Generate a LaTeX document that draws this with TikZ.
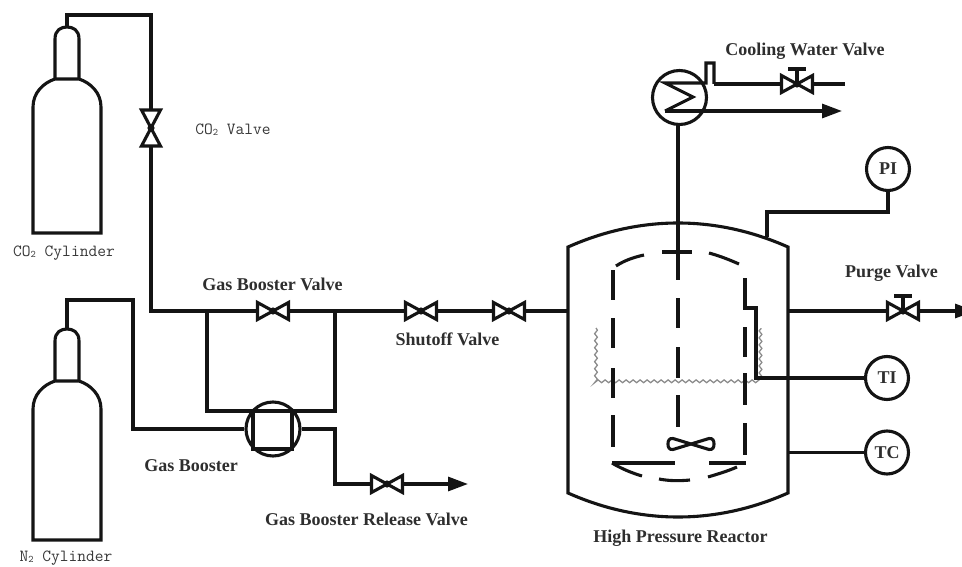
\documentclass[tikz,border=0pt]{standalone}
\usepackage{fontspec}
\setmainfont{Liberation Serif}
\usetikzlibrary{arrows.meta,decorations.pathmorphing}
\definecolor{pipec}{gray}{0.08}
\definecolor{coilc}{gray}{0.55}
\newcommand{\subtwo}{\raisebox{-1pt}{\fontsize{10}{10}\selectfont 2}}
\tikzset{
  x=1pt,y=-1pt,
  pipe/.style={line width=3.1pt,draw=pipec,line join=miter},
  dashseg/.style={line width=3.1pt,draw=pipec},
  flow/.style={pipe,-{Triangle[length=20pt,width=14pt]}},
  lab/.style={font=\bfseries\fontsize{18}{20}\selectfont,text=black!82,inner sep=0pt},
  mlab/.style={font=\ttfamily\fontsize{17}{19}\selectfont,text=black!78,inner sep=0pt},
  inst/.style={circle,draw=pipec,line width=3.1pt,fill=white,minimum size=43pt,inner sep=0pt,font=\bfseries\fontsize{18}{20}\selectfont,text=black!82},
  ring/.style={circle,draw=pipec,line width=3.1pt,minimum size=54pt,inner sep=0pt},
  coil/.style={draw=coilc,line width=1.3pt,decorate,decoration={snake,amplitude=1.4pt,segment length=7pt}},
  bowtie/.pic={\draw[pipe,fill=white] (-15.5,-8.5)--(15.5,8.5)--(15.5,-8.5)--(-15.5,8.5)--cycle; \fill[pipec] (0,0) circle (3.6);},
  vbowtie/.pic={\draw[pipe,fill=white] (-9.5,-18)--(9.5,18)--(-9.5,18)--(9.5,-18)--cycle; \fill[pipec] (0,0) circle (3.6);},
  handle/.pic={\draw[pipe] (0,0)--(0,-15); \draw[pipe] (-9,-15)--(9,-15);},
  pics/cylinder/.style={code={
     \draw[pipe] (-34,#1)--(34,#1)--(34,80)
     .. controls (34,66) and (24,56) .. (12,52) -- (-12,52)
     .. controls (-24,56) and (-34,66) .. (-34,80) -- cycle;
     \draw[pipe] (-12,52)--(-12,12) .. controls (-12,3) and (-6,0) .. (0,0)
     .. controls (6,0) and (12,3) .. (12,12) -- (12,52);}}
}
\begin{document}
\begin{tikzpicture}
\useasboundingbox (0,0) rectangle (962,567);
% anchors
\coordinate (cyl1) at (67,27);
\coordinate (cyl2) at (67,329);
\coordinate (vco2) at (151,128);
\coordinate (jn) at (151,311);
\coordinate (jl) at (207,311);
\coordinate (jr) at (335,311);
\coordinate (vgb) at (273,311);
\coordinate (vs1) at (421,311);
\coordinate (vs2) at (509,311);
\coordinate (rl) at (568,311);
\coordinate (rr) at (788,311);
\coordinate (vpg) at (903,311);
\coordinate (pgend) at (975,311);
\coordinate (vrl) at (387,484);
\coordinate (rlend) at (468,484);
\coordinate (vcw) at (797,84);
\coordinate (cwend) at (845,84);
\coordinate (cdend) at (842,111);
\coordinate (shafttop) at (678,125);
% equipment nodes
\node[ring] (cond) at (679.5,97.5) {};
\node[ring] (boost) at (273,429) {};
\node[inst] (pi) at (888,169) {PI};
\node[inst] (ti) at (887,378) {TI};
\node[inst] (tc) at (887,452.5) {TC};
% cylinders
\pic at (cyl1) {cylinder=206};
\pic at (cyl2) {cylinder=211};
% CO2 line
\draw[pipe] (cyl1) -- (67,15) -- (151,15) -- (vco2) -- (jn) -- (rl);
% N2 line
\draw[pipe] (cyl2) -- (67,300) -- (133,300) -- (133,429) -- (boost.west);
% bypass
\draw[pipe] (jl) -- (207,411) -- (335,411) -- (jr);
% booster square
\draw[pipe] (253,411) rectangle (292,449);
% release
\draw[pipe] (boost.east) -- (335,429) -- (335,484) -- (vrl);
\draw[flow] (vrl) -- (rlend);
% valves on main line
\pic at (vgb) {bowtie};
\pic at (vs1) {bowtie};
\pic at (vs2) {bowtie};
\pic at (vrl) {bowtie};
\pic at (vco2) {vbowtie};
% reactor
\draw[pipe] (568,247) .. controls (640,215) and (716,215) .. (788,247) -- (788,493)
  .. controls (716,525) and (640,525) .. (568,493) -- cycle;
% internal coil
\draw[coil] (596,328) -- (596,381) -- (761,381) -- (761,328);
% internal dashed vessel
\draw[dashseg] (613,270)--(613,300) (613,318)--(613,348) (613,368)--(613,398) (613,415)--(613,447);
\draw[dashseg] (745,327)--(745,357) (745,373)--(745,405) (745,423)--(745,455);
\draw[dashseg] (616,266) .. controls (625,260) and (635,257) .. (644,255);
\draw[dashseg] (709,253) .. controls (720,256) and (730,260) .. (739,264);
\draw[dashseg] (662,252)--(692,252);
\draw[dashseg] (612,463)--(675,463) (709,463)--(746,463);
\draw[dashseg] (612,463) .. controls (622,469) and (632,473) .. (642,476);
\draw[dashseg] (659,479) .. controls (669,481) and (680,481) .. (690,480);
\draw[dashseg] (708,477) .. controls (718,474) and (728,471) .. (737,467);
% shaft
\draw[dashseg] (shafttop) -- (678,280) (678,298)--(678,328) (678,347)--(678,378) (678,395)--(678,427);
% impeller
\draw[dashseg,fill=white] (691,444) -- (673,438.5)
  .. controls (669,438) and (668,441) .. (668,444) .. controls (668,447) and (669,450) .. (673,449.5)
  -- (691,444) -- (709,438.5) .. controls (713,438) and (714,441) .. (714,444)
  .. controls (714,447) and (713,450) .. (709,449.5) -- cycle;
% outlets
\draw[flow] (rr) -- (pgend);
\pic at (vpg) {handle};
\pic at (vpg) {bowtie};
\draw[pipe] (745,278) -- (745,308) -- (756,308) -- (756,378) -- (ti.west);
\draw[pipe] (788,452.5) -- (tc.west);
\draw[pipe] (767,237) -- (767,212) -| (pi.south);
% condenser
\draw[pipe] (714,84) -- (vcw) -- (cwend);
\pic at (vcw) {handle};
\pic at (vcw) {bowtie};
\draw[pipe] (665,111) -- (693,97) -- (665,83) -- (706,83) -- (706,63) -- (714,63) -- (714,84);
\draw[flow] (665,111) -- (cdend);
% labels
\node[lab] (l1) at (805,51) {Cooling Water Valve};
\node[lab] (l2) at (272.5,284) {Gas Booster Valve};
\node[lab] (l3) at (447.5,339) {Shutoff Valve};
\node[lab] (l4) at (191,466) {Gas Booster};
\node[lab] (l5) at (366.5,519) {Gas Booster Release Valve};
\node[lab] (l6) at (680.5,538) {High Pressure Reactor};
\node[lab] (l7) at (891.5,273) {Purge Valve};
\node[mlab] (l8) at (233,130) {CO\subtwo{} Valve};
\node[mlab] (l9) at (64,253) {CO\subtwo{} Cylinder};
\node[mlab] (l10) at (66,558) {N\subtwo{} Cylinder};
\end{tikzpicture}
\end{document}
